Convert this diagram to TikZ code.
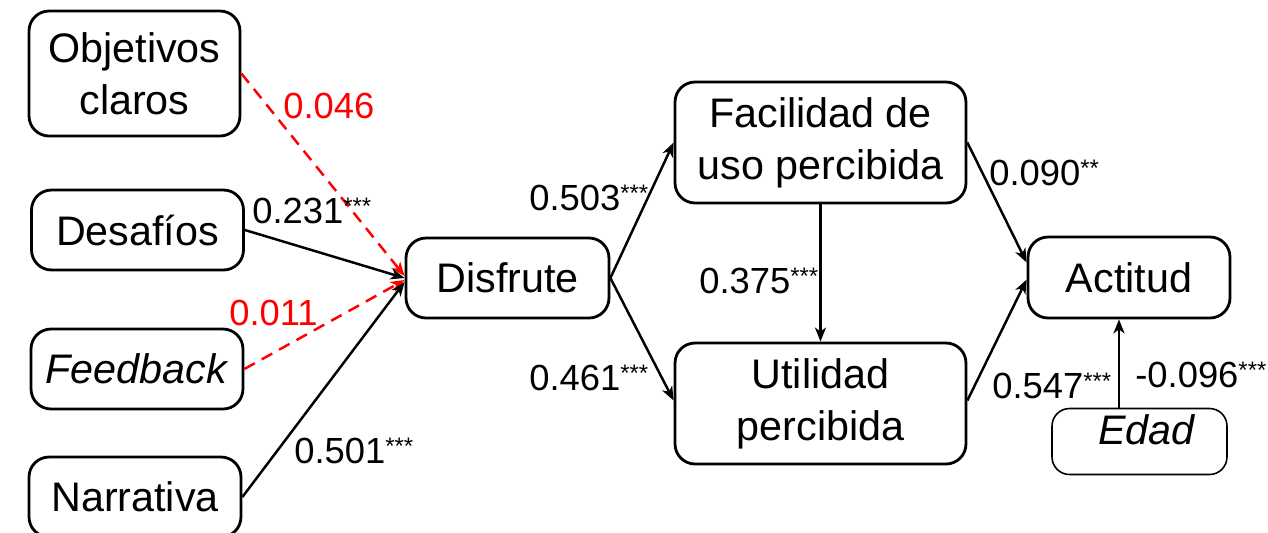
\documentclass[tikz,border=0pt]{standalone}
\usepackage{fontspec}
\setmainfont{Liberation Sans}
\usetikzlibrary{arrows.meta,calc}
% significance stars set as small raised text
\newcommand{\sigstars}[1]{\raisebox{5pt}{\fontsize{13.6}{14}\selectfont #1}}
\begin{document}
\begin{tikzpicture}[x=0.02cm,y=-0.02cm,
  box/.style={draw, line width=1.6pt, rounded corners=0.4cm, align=center,
    inner sep=0pt, font=\fontsize{23.5}{29.5}\selectfont},
  thinbox/.style={draw, line width=0.9pt, rounded corners=0.35cm,
    inner xsep=0pt, inner ysep=0.12cm, text height=0.6cm, text depth=0.48cm,
    font=\fontsize{23.5}{29.5}\selectfont},
  link/.style={line width=1.4pt, -{Stealth[length=0.28cm,width=0.22cm,inset=0.08cm]}},
  weak/.style={link, red, dash pattern=on 6.8pt off 4.5pt},
  coef/.style={anchor=base west, inner sep=0pt, font=\fontsize{20.7}{24}\selectfont}]
\useasboundingbox (0,0) rectangle (1268,532);

% constructs
\node[box, minimum width=4.22cm, minimum height=2.5cm] (obj) at (134.5,73.5) {Objetivos\\claros};
\node[box, minimum width=4.24cm, minimum height=1.6cm] (des) at (137.5,230) {Desafíos};
\node[box, minimum width=4.24cm, minimum height=1.6cm] (fb) at (137,369) {\textit{Feedback}};
\node[box, minimum width=4.24cm, minimum height=1.6cm] (nar) at (135,497) {Narrativa};
\node[box, minimum width=4.06cm, minimum height=1.6cm] (dis) at (507.5,278) {Disfrute};
\node[box, minimum width=5.82cm, minimum height=2.42cm] (fac) at (820.5,142.5) {Facilidad de\\uso percibida};
\node[box, minimum width=5.82cm, minimum height=2.42cm] (uti) at (820.5,403.5) {Utilidad\\percibida};
\node[box, minimum width=4.04cm, minimum height=1.62cm] (act) at (1129,277.5) {Actitud};
\node[thinbox, minimum width=3.5cm] (eda) at (1139.5,441.5) {\hspace*{0.3cm}\textit{Edad}};

% paths
\draw[weak] (obj.east) -- ($(dis.west)+(0,-2)$);
\draw[link] (des.east) -- (dis.west);
\draw[weak] (fb.east) -- ($(dis.west)+(0,2)$);
\draw[link] (nar.east) -- ($(dis.west)+(0,4)$);
\draw[link] (dis.east) -- (fac.west);
\draw[link] (dis.east) -- ($(uti.west)+(0,-3)$);
\draw[link] (fac.south) -- (uti.north);
\draw[link] (fac.east) -- ($(act.west)+(0,-15)$);
\draw[link] ($(uti.east)+(0,-3)$) -- ($(act.west)+(0,2)$);
\draw[link] ($(eda.north)+(-20.5,0)$) -- ($(act.south)+(-10,0)$);

% path coefficients
\node[coef, red] (c1) at (283,118) {0.046};
\node[coef] (c2) at (252,223) {0.231\sigstars{***}};
\node[coef, red] (c3) at (229,325) {0.011};
\node[coef] (c4) at (294,463) {0.501\sigstars{***}};
\node[coef] (c5) at (529,210) {0.503\sigstars{***}};
\node[coef] (c6) at (529,390) {0.461\sigstars{***}};
\node[coef] (c7) at (699,293) {0.375\sigstars{***}};
\node[coef] (c8) at (989,185) {0.090\sigstars{**}};
\node[coef] (c9) at (992,398) {0.547\sigstars{***}};
\node[coef] (c10) at (1135,387) {-0.096\sigstars{***}};
\end{tikzpicture}
\end{document}
